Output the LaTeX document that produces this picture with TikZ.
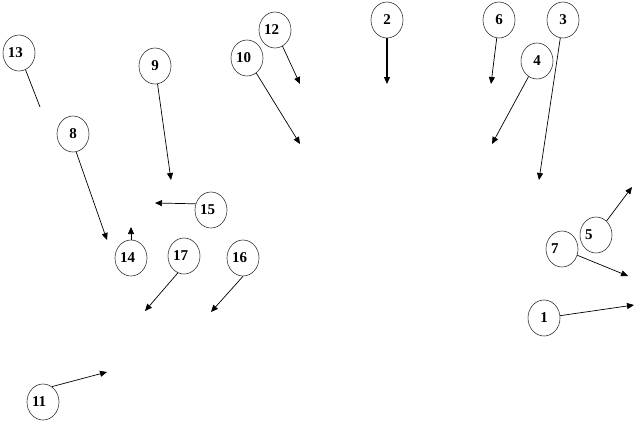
\documentclass[tikz,border=0pt]{standalone}
\usepackage{fontspec}
\setmainfont{Liberation Serif}
\usetikzlibrary{shapes.geometric}
\usetikzlibrary{arrows.meta}

\begin{document}
\begin{tikzpicture}[
        x=1pt, y=-1pt,
        bubble/.style={ellipse, draw=black!80, line width=0.6pt, minimum width=32pt, minimum height=36pt, inner sep=0pt, font=\fontsize{15}{17}\selectfont\bfseries},
        lbubble/.style={bubble, text width=22pt, align=left},
        arrow/.style={-{Triangle[length=7pt,width=6pt]}, line width=0.7pt},
        plain/.style={line width=0.7pt}
        ]

        \useasboundingbox (0,0) rectangle (637,423);

        % Nodes
        \node[bubble]  (n1)  at (544,318) {1};
        \node[bubble]  (n2)  at (387,20)  {2};
        \node[bubble]  (n3)  at (563,20)  {3};
        \node[bubble]  (n4)  at (537,61)  {4};
        \node[lbubble] (n5)  at (596,235) {5};
        \node[bubble]  (n6)  at (499,20)  {6};
        \node[lbubble] (n7)  at (562,249) {7};
        \node[bubble]  (n8)  at (73,134)  {8};
        \node[bubble]  (n9)  at (155,66)  {9};
        \node[lbubble] (n10) at (247,58)  {10};
        \node[lbubble] (n11) at (43,402)  {11};
        \node[lbubble] (n12) at (275,30)  {12};
        \node[lbubble] (n13) at (19,53)   {13};
        \node[lbubble] (n14) at (131,258) {14};
        \node[lbubble] (n15) at (211,210) {15};
        \node[lbubble] (n16) at (243,258) {16};
        \node[lbubble] (n17) at (184,256) {17};

        % Free ends
        \coordinate (e1)  at (634,305);
        \coordinate (e2)  at (387,84);
        \coordinate (e3)  at (539,180);
        \coordinate (e4)  at (492,144);
        \coordinate (e5)  at (632,187);
        \coordinate (e6)  at (491,84);
        \coordinate (e7)  at (628,276);
        \coordinate (e8)  at (107,240);
        \coordinate (e9)  at (171,180);
        \coordinate (e10) at (300,144);
        \coordinate (e11) at (107,372);
        \coordinate (e12) at (300,84);
        \coordinate (e13) at (40,107);
        \coordinate (e14) at (131,227);
        \coordinate (e15) at (155,203);
        \coordinate (e16) at (211,312);
        \coordinate (e17) at (145,311);

        % Arrows
        \draw[arrow] (n1) -- (e1);
        \draw[arrow, line width=1.3pt] (n2) -- (e2);
        \draw[arrow] (n3) -- (e3);
        \draw[arrow] (n4) -- (e4);
        \draw[arrow] (n5) -- (e5);
        \draw[arrow] (n6) -- (e6);
        \draw[arrow] (n7) -- (e7);
        \draw[arrow] (n8.280) -- (e8);
        \draw[arrow] (n9) -- (e9);
        \draw[arrow] (n10) -- (e10);
        \draw[arrow] (n11.60) -- (e11);
        \draw[arrow] (n12) -- (e12);
        \draw[plain] (n13) -- (e13);
        \draw[arrow] (n14) -- (e14);
        \draw[arrow] (n15.158) -- (e15);
        \draw[arrow] (n16.south) -- (e16);
        \draw[arrow] (n17.250) -- (e17);

    \end{tikzpicture}
\end{document}
